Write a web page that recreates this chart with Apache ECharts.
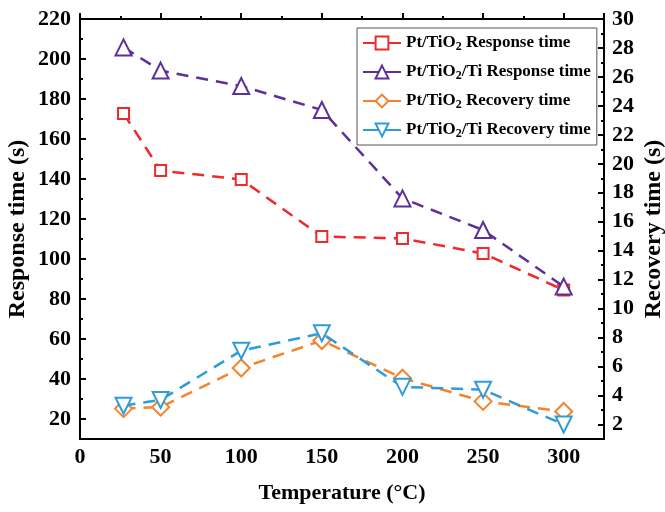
<!DOCTYPE html>
<html>
<head>
<meta charset="utf-8">
<script src="https://cdn.jsdelivr.net/npm/echarts@6/dist/echarts.min.js"></script>
<style>
  html, body { margin: 0; padding: 0; background: #fff; }
  #chart { width: 665px; height: 512px; }
</style>
</head>
<body>
<div id="chart"></div>
<script>
// Operating temperature (°C)
const temperatures = [27, 50, 100, 150, 200, 250, 300];

// Response times (s), left axis
const responsePt   = [172.8, 144.2, 139.8, 111.2, 110.3, 102.8, 84.5];
const responsePtTi = [205.8, 194.2, 186.5, 174.5, 130.3, 114.5, 86.2];

// Recovery times (s), right axis
const recoveryPt   = [3.1, 3.2, 5.9, 7.8, 5.2, 3.6, 2.9];
const recoveryPtTi = [3.3, 3.7, 7.1, 8.3, 4.6, 4.4, 2.0];

// Series names
const seriesNames = [
  'Pt/TiO2 Response time',
  'Pt/TiO2/Ti Response time',
  'Pt/TiO2 Recovery time',
  'Pt/TiO2/Ti Recovery time'
];

// Axis ranges and tick steps
const xRange = [0, 325], xStep = 50;
const leftRange = [10, 220], leftStep = 20;
const rightRange = [1, 30], rightStep = 2;

const FONT = '"Liberation Serif", "Times New Roman", serif';
const labelFont = { color: '#000', fontFamily: FONT, fontWeight: 'bold', fontSize: 22 };
const titleFont = { color: '#000', fontFamily: FONT, fontWeight: 'bold', fontSize: 22 };
const yTitleFont = { color: '#000', fontFamily: FONT, fontWeight: 'bold', fontSize: 24 };
const axisLine = { show: true, lineStyle: { color: '#000', width: 2 } };

const chart = echarts.init(document.getElementById('chart'), null, { renderer: 'canvas' });

function pairs(ys) { return temperatures.map((t, i) => [t, ys[i]]); }

const dash = [12, 8];

function lineSeries(name, ys, yIdx, color, symbol, size, rotate, z) {
  return {
    name: name,
    type: 'line',
    xAxisIndex: 0,
    yAxisIndex: yIdx,
    data: pairs(ys),
    symbol: symbol,
    symbolSize: size,
    symbolRotate: rotate,
    showAllSymbol: true,
    z: z,
    lineStyle: { color: color, width: 2.5, type: dash },
    itemStyle: { color: color, borderColor: color, borderWidth: 2.6 },
    emphasis: { disabled: true }
  };
}

const option = {
  animation: false,
  backgroundColor: '#fff',
  grid: {
    left: 80, right: 61, top: 19, bottom: 73,
    containLabel: false,
    outerBoundsMode: 'none',
    show: true, borderColor: '#000', borderWidth: 2, backgroundColor: 'transparent'
  },
  legend: {
    orient: 'vertical',
    left: 357, top: 28,
    padding: [5, 6, 5, 5],
    itemWidth: 38, itemHeight: 16, itemGap: 9,
    borderColor: '#555', borderWidth: 1,
    lineStyle: { type: 'solid' },
    data: seriesNames,
    formatter: function (n) { return n.replace('TiO2', 'TiO{sub|2}'); },
    textStyle: {
      color: '#000', fontFamily: FONT, fontWeight: 'bold', fontSize: 17, lineHeight: 20,
      rich: {
        sub: { color: '#000', fontFamily: FONT, fontWeight: 'bold', fontSize: 12,
               lineHeight: 8, verticalAlign: 'bottom' }
      }
    }
  },
  xAxis: [{
    type: 'value',
    min: xRange[0], max: xRange[1], interval: xStep,
    name: 'Temperature (°C)', nameLocation: 'middle', nameGap: 43, nameMoveOverlap: false,
    nameTextStyle: titleFont,
    axisLine: axisLine,
    axisTick: { show: true, inside: true, length: 6, lineStyle: { color: '#000', width: 2 } },
    minorTick: { show: true, splitNumber: 2, length: 3, lineStyle: { color: '#000', width: 2 } },
    axisLabel: Object.assign({ margin: 7, formatter: v => (v % xStep === 0 ? String(v) : '') }, labelFont),
    splitLine: { show: false }
  }],
  yAxis: [
    {
      // left axis: labels and short ticks every 10
      type: 'value', position: 'left',
      min: leftRange[0], max: leftRange[1], interval: 10,
      name: 'Response time (s)', nameLocation: 'middle', nameGap: 50, nameRotate: 90,
      nameMoveOverlap: false,
      nameTextStyle: yTitleFont,
      axisLine: axisLine,
      axisTick: { show: true, inside: true, length: 3, lineStyle: { color: '#000', width: 2 } },
      axisLabel: Object.assign({ margin: 9, formatter: v => (v % leftStep === 0 ? String(v) : '') }, labelFont),
      splitLine: { show: false }
    },
    {
      // left axis: long ticks on the labelled values (counted down from the top)
      type: 'value', position: 'left', inverse: true,
      min: 0, max: leftRange[1] - leftRange[0], interval: leftStep,
      axisLine: { show: false },
      axisTick: { show: true, inside: true, length: 6, lineStyle: { color: '#000', width: 2 } },
      axisLabel: { show: false },
      splitLine: { show: false }
    },
    {
      // right axis: labels and short ticks every 1
      type: 'value', position: 'right',
      min: rightRange[0], max: rightRange[1], interval: 1,
      name: 'Recovery time (s)', nameLocation: 'middle', nameGap: 38, nameRotate: 90,
      nameMoveOverlap: false,
      nameTextStyle: yTitleFont,
      axisLine: axisLine,
      axisTick: { show: true, inside: true, length: 3, lineStyle: { color: '#000', width: 2 } },
      axisLabel: Object.assign({ margin: 8, formatter: v => (v % rightStep === 0 ? String(v) : '') }, labelFont),
      splitLine: { show: false }
    },
    {
      // right axis: long ticks on the labelled values
      type: 'value', position: 'right', inverse: true,
      min: 0, max: rightRange[1] - rightRange[0], interval: rightStep,
      axisLine: { show: false },
      axisTick: { show: true, inside: true, length: 6, lineStyle: { color: '#000', width: 2 } },
      axisLabel: { show: false },
      splitLine: { show: false }
    }
  ],
  series: [
    lineSeries(seriesNames[0], responsePt,   0, '#EE2A2A', 'emptyRect',     11, 0,   2),
    lineSeries(seriesNames[1], responsePtTi, 0, '#5B2F9C', 'emptyTriangle', 16, 0,   3),
    lineSeries(seriesNames[2], recoveryPt,   2, '#F5832B', 'emptyDiamond',  17, 0,   4),
    lineSeries(seriesNames[3], recoveryPtTi, 2, '#2F9BD9', 'emptyTriangle', 16, 180, 5)
  ]
};

chart.setOption(option);
</script>
</body>
</html>
